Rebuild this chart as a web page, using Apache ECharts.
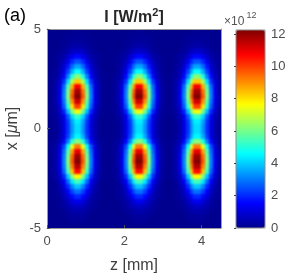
<!DOCTYPE html>
<html><head><meta charset="utf-8">
<script src="https://cdn.jsdelivr.net/npm/echarts@6/dist/echarts.min.js"></script>
<style>
html,body{margin:0;padding:0;background:#fff}
#c{width:293px;height:277px}
#c canvas[data-zr-dom-id="zr_1"]{filter:blur(1.2px);clip-path:inset(29px 72px 49px 47px)}
</style>
</head><body><div id="c"></div>
<script>
// z (mm) cell centres, columns
const zCenters = [0.05,0.15,0.25,0.35,0.45,0.55,0.65,0.75,0.85,0.95,1.05,1.15,1.25,1.35,1.45,1.55,1.65,1.75,1.85,1.95,2.05,2.15,2.25,2.35,2.45,2.55,2.65,2.75,2.85,2.95,3.05,3.15,3.25,3.35,3.45,3.55,3.65,3.75,3.85,3.95,4.05,4.15,4.25,4.35,4.45];
// x (um) cell centres, rows (bottom to top)
const xCenters = [-4.875,-4.625,-4.375,-4.125,-3.875,-3.625,-3.375,-3.125,-2.875,-2.625,-2.375,-2.125,-1.875,-1.625,-1.375,-1.125,-0.875,-0.625,-0.375,-0.125,0.125,0.375,0.625,0.875,1.125,1.375,1.625,1.875,2.125,2.375,2.625,2.875,3.125,3.375,3.625,3.875,4.125,4.375,4.625,4.875];
// intensity I (x1e12 W/m^2), one row per x value, one column per z value
const intensity = [
[0,0,0,0,0,0,0,0,0,0,0,0,0,0,0,0, 0,0,0,0,0,0,0,0,0,0,0,0,0,0,0,0, 0,0,0,0,0,0,0,0,0,0,0,0,0],
[0,0,0,0,0,0,.1,.1,.1,.1,0,0,0,0,0,0, 0,0,0,0,0,0,.1,.1,.1,.1,0,0,0,0,0,0, 0,0,0,0,0,.1,.1,.1,.1,0,0,0,0],
[0,0,0,0,0,.1,.2,.2,.2,.2,.1,0,0,0,0,0, 0,0,0,0,0,.1,.2,.2,.2,.2,.1,0,0,0,0,0, 0,0,0,0,.1,.2,.2,.2,.2,.1,0,0,0],
[0,0,0,0,.1,.2,.3,.4,.4,.3,.2,.1,0,0,0,0, 0,0,0,0,.1,.2,.3,.4,.4,.3,.2,.1,0,0,0,0, 0,0,0,.1,.2,.3,.4,.4,.3,.2,.1,0,0],
[0,0,0,.1,.2,.4,.6,.7,.7,.6,.4,.2,.1,0,0,0, 0,0,0,.1,.2,.4,.6,.7,.7,.6,.4,.2,.1,0,0,0, 0,0,.1,.2,.4,.6,.7,.7,.6,.4,.2,.1,0],
[0,0,0,.1,.3,.6,1,1.3,1.3,1,.6,.3,.1,0,0,0, 0,0,0,.1,.3,.6,1,1.3,1.3,1,.6,.3,.1,0,0,0, 0,0,.1,.3,.6,1,1.3,1.3,1,.6,.3,.1,0],
[0,0,.1,.2,.5,1,1.6,2,2,1.6,1,.5,.2,.1,0,0, 0,0,.1,.2,.5,1,1.6,2,2,1.6,1,.5,.2,.1,0,0, 0,.1,.2,.5,1,1.6,2,2,1.6,1,.5,.2,.1],
[0,0,.1,.3,.7,1.5,2.3,2.9,2.9,2.3,1.5,.7,.3,.1,0,0, 0,0,.1,.3,.7,1.5,2.3,2.9,2.9,2.3,1.5,.7,.3,.1,0,0, 0,.1,.3,.7,1.5,2.3,2.9,2.9,2.3,1.5,.7,.3,.1],
[0,0,.1,.4,1,2,3.1,3.9,3.9,3.1,2,1,.4,.1,0,0, 0,0,.1,.4,1,2,3.1,3.9,3.9,3.1,2,1,.4,.1,0,0, 0,.1,.4,1,2,3.1,3.9,3.9,3.1,2,1,.4,.1],
[0,0,.2,.6,1.4,2.8,4.3,5.4,5.4,4.3,2.8,1.4,.6,.2,0,0, 0,0,.2,.6,1.4,2.8,4.3,5.4,5.4,4.3,2.8,1.4,.6,.2,0,0, 0,.2,.6,1.4,2.8,4.3,5.4,5.4,4.3,2.8,1.4,.6,.2],
[0,.1,.3,.8,2,3.9,6.1,7.7,7.7,6.1,3.9,2,.8,.3,.1,0, 0,.1,.3,.8,2,3.9,6.1,7.7,7.7,6.1,3.9,2,.8,.3,.1,0, .1,.3,.8,2,3.9,6.1,7.7,7.7,6.1,3.9,2,.8,.3],
[0,.1,.3,1.1,2.7,5.4,8.4,10.6,10.6,8.4,5.4,2.7,1.1,.3,.1,0, 0,.1,.3,1.1,2.7,5.4,8.4,10.6,10.6,8.4,5.4,2.7,1.1,.3,.1,0, .1,.3,1.1,2.7,5.4,8.4,10.6,10.6,8.4,5.4,2.7,1.1,.3],
[0,.1,.4,1.2,3,5.9,9.2,11.6,11.6,9.2,5.9,3,1.2,.4,.1,0, 0,.1,.4,1.2,3,5.9,9.2,11.6,11.6,9.2,5.9,3,1.2,.4,.1,0, .1,.4,1.2,3,5.9,9.2,11.6,11.6,9.2,5.9,3,1.2,.4],
[0,.1,.4,1.3,3.1,6.2,9.7,12.2,12.2,9.7,6.2,3.1,1.3,.4,.1,0, 0,.1,.4,1.3,3.1,6.2,9.7,12.2,12.2,9.7,6.2,3.1,1.3,.4,.1,0, .1,.4,1.3,3.1,6.2,9.7,12.2,12.2,9.7,6.2,3.1,1.3,.4],
[0,.1,.4,1.2,3,6,9.5,11.9,11.9,9.5,6,3,1.2,.4,.1,0, 0,.1,.4,1.2,3,6,9.5,11.9,11.9,9.5,6,3,1.2,.4,.1,0, .1,.4,1.2,3,6,9.5,11.9,11.9,9.5,6,3,1.2,.4],
[0,.1,.4,1.1,2.8,5.6,8.8,11,11,8.8,5.6,2.8,1.1,.4,.1,0, 0,.1,.4,1.1,2.8,5.6,8.8,11,11,8.8,5.6,2.8,1.1,.4,.1,0, .1,.4,1.1,2.8,5.6,8.8,11,11,8.8,5.6,2.8,1.1,.4],
[0,.1,.3,1,2.4,4.7,7.4,9.3,9.3,7.4,4.7,2.4,1,.3,.1,0, 0,.1,.3,1,2.4,4.7,7.4,9.3,9.3,7.4,4.7,2.4,1,.3,.1,0, .1,.3,1,2.4,4.7,7.4,9.3,9.3,7.4,4.7,2.4,1,.3],
[0,.1,.2,.6,1.6,3.1,5,6.2,6.2,5,3.1,1.6,.6,.2,.1,0, 0,.1,.2,.6,1.6,3.1,5,6.2,6.2,5,3.1,1.6,.6,.2,.1,0, .1,.2,.6,1.6,3.1,5,6.2,6.2,5,3.1,1.6,.6,.2],
[0,0,.1,.5,1.1,2.3,3.6,4.5,4.5,3.6,2.3,1.1,.5,.1,0,0, 0,0,.1,.5,1.1,2.3,3.6,4.5,4.5,3.6,2.3,1.1,.5,.1,0,0, 0,.1,.5,1.1,2.3,3.6,4.5,4.5,3.6,2.3,1.1,.5,.1],
[0,0,.1,.4,1.1,2.1,3.3,4.2,4.2,3.3,2.1,1.1,.4,.1,0,0, 0,0,.1,.4,1.1,2.1,3.3,4.2,4.2,3.3,2.1,1.1,.4,.1,0,0, 0,.1,.4,1.1,2.1,3.3,4.2,4.2,3.3,2.1,1.1,.4,.1],
[0,0,.1,.4,1.1,2.1,3.3,4.2,4.2,3.3,2.1,1.1,.4,.1,0,0, 0,0,.1,.4,1.1,2.1,3.3,4.2,4.2,3.3,2.1,1.1,.4,.1,0,0, 0,.1,.4,1.1,2.1,3.3,4.2,4.2,3.3,2.1,1.1,.4,.1],
[0,0,.1,.5,1.1,2.2,3.5,4.4,4.4,3.5,2.2,1.1,.5,.1,0,0, 0,0,.1,.5,1.1,2.2,3.5,4.4,4.4,3.5,2.2,1.1,.5,.1,0,0, 0,.1,.5,1.1,2.2,3.5,4.4,4.4,3.5,2.2,1.1,.5,.1],
[0,0,.2,.5,1.3,2.6,4.1,5.2,5.2,4.1,2.6,1.3,.5,.2,0,0, 0,0,.2,.5,1.3,2.6,4.1,5.2,5.2,4.1,2.6,1.3,.5,.2,0,0, 0,.2,.5,1.3,2.6,4.1,5.2,5.2,4.1,2.6,1.3,.5,.2],
[0,.1,.2,.8,1.9,3.8,6,7.5,7.5,6,3.8,1.9,.8,.2,.1,0, 0,.1,.2,.8,1.9,3.8,6,7.5,7.5,6,3.8,1.9,.8,.2,.1,0, .1,.2,.8,1.9,3.8,6,7.5,7.5,6,3.8,1.9,.8,.2],
[0,.1,.3,1,2.6,5.1,8,10,10,8,5.1,2.6,1,.3,.1,0, 0,.1,.3,1,2.6,5.1,8,10,10,8,5.1,2.6,1,.3,.1,0, .1,.3,1,2.6,5.1,8,10,10,8,5.1,2.6,1,.3],
[0,.1,.4,1.2,2.9,5.7,9,11.3,11.3,9,5.7,2.9,1.2,.4,.1,0, 0,.1,.4,1.2,2.9,5.7,9,11.3,11.3,9,5.7,2.9,1.2,.4,.1,0, .1,.4,1.2,2.9,5.7,9,11.3,11.3,9,5.7,2.9,1.2,.4],
[0,.1,.4,1.3,3.1,6.2,9.7,12.2,12.2,9.7,6.2,3.1,1.3,.4,.1,0, 0,.1,.4,1.3,3.1,6.2,9.7,12.2,12.2,9.7,6.2,3.1,1.3,.4,.1,0, .1,.4,1.3,3.1,6.2,9.7,12.2,12.2,9.7,6.2,3.1,1.3,.4],
[0,.1,.4,1.2,3,6,9.4,11.8,11.8,9.4,6,3,1.2,.4,.1,0, 0,.1,.4,1.2,3,6,9.4,11.8,11.8,9.4,6,3,1.2,.4,.1,0, .1,.4,1.2,3,6,9.4,11.8,11.8,9.4,6,3,1.2,.4],
[0,.1,.4,1.1,2.8,5.5,8.6,10.8,10.8,8.6,5.5,2.8,1.1,.4,.1,0, 0,.1,.4,1.1,2.8,5.5,8.6,10.8,10.8,8.6,5.5,2.8,1.1,.4,.1,0, .1,.4,1.1,2.8,5.5,8.6,10.8,10.8,8.6,5.5,2.8,1.1,.4],
[0,.1,.3,.9,2.1,4.2,6.6,8.3,8.3,6.6,4.2,2.1,.9,.3,.1,0, 0,.1,.3,.9,2.1,4.2,6.6,8.3,8.3,6.6,4.2,2.1,.9,.3,.1,0, .1,.3,.9,2.1,4.2,6.6,8.3,8.3,6.6,4.2,2.1,.9,.3],
[0,.1,.2,.6,1.6,3.1,5,6.2,6.2,5,3.1,1.6,.6,.2,.1,0, 0,.1,.2,.6,1.6,3.1,5,6.2,6.2,5,3.1,1.6,.6,.2,.1,0, .1,.2,.6,1.6,3.1,5,6.2,6.2,5,3.1,1.6,.6,.2],
[0,0,.2,.5,1.2,2.3,3.6,4.6,4.6,3.6,2.3,1.2,.5,.2,0,0, 0,0,.2,.5,1.2,2.3,3.6,4.6,4.6,3.6,2.3,1.2,.5,.2,0,0, 0,.2,.5,1.2,2.3,3.6,4.6,4.6,3.6,2.3,1.2,.5,.2],
[0,0,.1,.4,.9,1.8,2.8,3.5,3.5,2.8,1.8,.9,.4,.1,0,0, 0,0,.1,.4,.9,1.8,2.8,3.5,3.5,2.8,1.8,.9,.4,.1,0,0, 0,.1,.4,.9,1.8,2.8,3.5,3.5,2.8,1.8,.9,.4,.1],
[0,0,.1,.3,.6,1.3,2,2.5,2.5,2,1.3,.6,.3,.1,0,0, 0,0,.1,.3,.6,1.3,2,2.5,2.5,2,1.3,.6,.3,.1,0,0, 0,.1,.3,.6,1.3,2,2.5,2.5,2,1.3,.6,.3,.1],
[0,0,.1,.2,.4,.8,1.2,1.6,1.6,1.2,.8,.4,.2,.1,0,0, 0,0,.1,.2,.4,.8,1.2,1.6,1.6,1.2,.8,.4,.2,.1,0,0, 0,.1,.2,.4,.8,1.2,1.6,1.6,1.2,.8,.4,.2,.1],
[0,0,0,.1,.2,.4,.7,.8,.8,.7,.4,.2,.1,0,0,0, 0,0,0,.1,.2,.4,.7,.8,.8,.7,.4,.2,.1,0,0,0, 0,0,.1,.2,.4,.7,.8,.8,.7,.4,.2,.1,0],
[0,0,0,0,.1,.2,.3,.4,.4,.3,.2,.1,0,0,0,0, 0,0,0,0,.1,.2,.3,.4,.4,.3,.2,.1,0,0,0,0, 0,0,0,.1,.2,.3,.4,.4,.3,.2,.1,0,0],
[0,0,0,0,.1,.1,.2,.2,.2,.2,.1,.1,0,0,0,0, 0,0,0,0,.1,.1,.2,.2,.2,.2,.1,.1,0,0,0,0, 0,0,0,.1,.1,.2,.2,.2,.2,.1,.1,0,0],
[0,0,0,0,0,.1,.1,.1,.1,.1,.1,0,0,0,0,0, 0,0,0,0,0,.1,.1,.1,.1,.1,.1,0,0,0,0,0, 0,0,0,0,.1,.1,.1,.1,.1,.1,0,0,0],
[0,0,0,0,0,0,0,.1,.1,0,0,0,0,0,0,0, 0,0,0,0,0,0,0,.1,.1,0,0,0,0,0,0,0, 0,0,0,0,0,0,.1,.1,0,0,0,0,0]
];
const zRange = [0, 4.5];
const xRange = [-5, 5];
const colorbarRange = [0, 12.25];
const jet = ['#00008F','#0000FF','#0080FF','#00FFFF','#80FF80','#FFFF00','#FF8000','#FF0000','#800000'];

const FONT = 'Liberation Sans, Arial, sans-serif';
const dz = zCenters[1] - zCenters[0];
const dx = xCenters[1] - xCenters[0];
const data = [];
let bad = intensity.length !== xCenters.length;
intensity.forEach((row, r) => {
  if (row.length !== zCenters.length) bad = true;
  row.forEach((v, c) => data.push([zCenters[c], xCenters[r], v]));
});

const chart = echarts.init(document.getElementById('c'), null, {renderer: 'canvas'});
const boxColor = '#9a9a9a';
const labStyle = {fontSize: 13, color: '#4d4d4d', fontFamily: FONT};
const boxAxis = {axisLine: {show: true, onZero: false, lineStyle: {color: boxColor}}, axisTick: {show: false}, axisLabel: {show: false}, splitLine: {show: false}};
chart.setOption({
  animation: false,
  backgroundColor: '#fff',
  grid: [
    {left: 47, top: 29, width: 174, height: 199, show: true, borderWidth: 0, backgroundColor: '#00008F', outerBoundsMode: 'none', containLabel: false},
    {left: 236, top: 30, width: 29, height: 198, show: true, z: 10, borderColor: '#8a8a8a', borderWidth: 1,
     backgroundColor: 'transparent', outerBoundsMode: 'none', containLabel: false}
  ],
  xAxis: [
    {type: 'value', gridIndex: 0, min: zRange[0], max: zRange[1], interval: 2, position: 'bottom', zlevel: 2, z: 5,
     axisLine: {show: true, onZero: false, lineStyle: {color: boxColor}},
     axisTick: {show: true, inside: true, length: 3, lineStyle: {color: '#555'}},
     axisLabel: Object.assign({show: true, showMaxLabel: false, margin: 7}, labStyle),
     splitLine: {show: false},
     name: 'z [mm]', nameLocation: 'middle', nameGap: 30, nameMoveOverlap: false,
     nameTextStyle: {fontSize: 16, color: '#404040', fontFamily: FONT}},
    Object.assign({type: 'value', gridIndex: 0, min: zRange[0], max: zRange[1], position: 'top', zlevel: 2, z: 5}, boxAxis),
    {type: 'value', gridIndex: 1, min: 0, max: 1, show: false}
  ],
  yAxis: [
    {type: 'value', gridIndex: 0, min: xRange[0], max: xRange[1], interval: 5, position: 'left', zlevel: 2, z: 5,
     axisLine: {show: true, onZero: false, lineStyle: {color: boxColor}},
     axisTick: {show: true, inside: true, length: 3, lineStyle: {color: '#555'}},
     axisLabel: Object.assign({show: true, margin: 6}, labStyle),
     splitLine: {show: false},
     name: 'x [{i|μ}m]', nameLocation: 'middle', nameGap: 26, nameMoveOverlap: false,
     nameTextStyle: {fontSize: 16, color: '#404040', fontFamily: FONT,
       rich: {i: {fontSize: 16, fontStyle: 'italic', color: '#404040', fontFamily: FONT}}}},
    Object.assign({type: 'value', gridIndex: 0, min: xRange[0], max: xRange[1], position: 'right', zlevel: 2, z: 5}, boxAxis),
    {type: 'value', gridIndex: 1, min: colorbarRange[0], max: colorbarRange[1], interval: 2, position: 'right', z: 12,
     axisLine: {show: false},
     axisTick: {show: true, inside: true, length: 2, lineStyle: {color: '#444'}},
     axisLabel: Object.assign({show: true, showMaxLabel: false, margin: 6}, labStyle),
     splitLine: {show: false}}
  ],
  visualMap: {
    type: 'continuous', min: colorbarRange[0], max: colorbarRange[1], seriesIndex: 0, dimension: 2,
    calculable: false, hoverLink: false, orient: 'vertical', left: 236, top: 30, padding: 0,
    itemWidth: 29, itemHeight: 198, inRange: {color: jet}
  },
  series: [{
    type: 'custom', xAxisIndex: 0, yAxisIndex: 0, data: data, zlevel: 1, clip: true,
    renderItem: function (params, api) {
      const z = api.value(0), x = api.value(1);
      const p0 = api.coord([z - dz / 2, x + dx / 2]);
      const p1 = api.coord([z + dz / 2, x - dx / 2]);
      const x0 = Math.floor(p0[0]), y0 = Math.floor(p0[1]);
      const x1 = Math.ceil(p1[0]), y1 = Math.ceil(p1[1]);
      return {type: 'rect', shape: {x: x0, y: y0, width: x1 - x0, height: y1 - y0},
              style: {fill: api.visual('color')}};
    }
  }],
  graphic: [
    {type: 'text', x: 4, y: 16.5, style: {text: '(a)', fontSize: 18, fontFamily: FONT, fill: '#000', textAlign: 'left', textVerticalAlign: 'middle'}},
    {type: 'text', x: 134, y: 18, style: {
      text: '{b|I [W/m}{s|2}{b|]}', textAlign: 'center', textVerticalAlign: 'middle',
      rich: {
        b: {fontSize: 16, fontWeight: 'bold', fontFamily: FONT, fill: '#262626', lineHeight: 22},
        s: {fontSize: 11, fontWeight: 'bold', fontFamily: FONT, fill: '#262626', lineHeight: 12, verticalAlign: 'top'}
      }}},
    {type: 'text', x: 224, y: 22, style: {text: '×10', fontSize: 12, fontFamily: FONT, fill: '#555', textAlign: 'left', textVerticalAlign: 'middle'}},
    {type: 'text', x: 246.5, y: 16, style: {text: '12', fontSize: 9, fontFamily: FONT, fill: '#555', textAlign: 'left', textVerticalAlign: 'middle'}}
  ].concat(bad ? [{type: 'text', x: 60, y: 120, style: {text: 'DATA ERR', fontSize: 20, fill: '#fff'}}] : [])
});
</script>
</body></html>
